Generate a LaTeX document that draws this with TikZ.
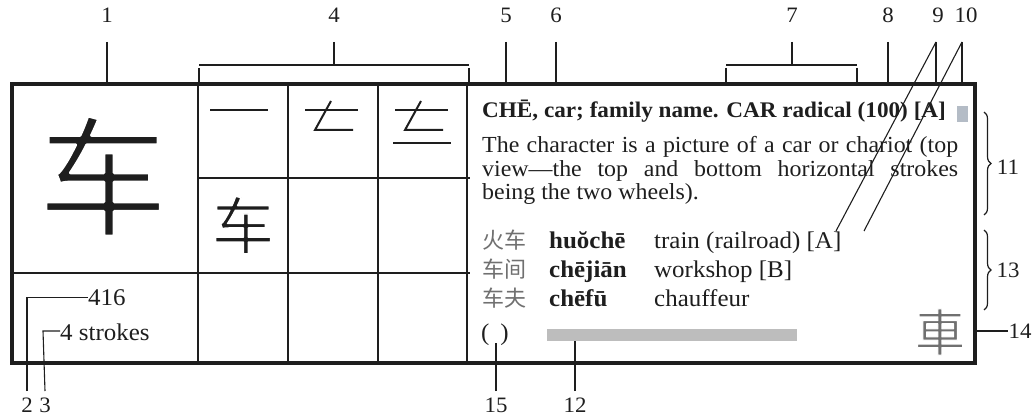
\documentclass[tikz,border=0pt]{standalone}
\usepackage{fontspec}
\setmainfont{Liberation Serif}[FakeStretch=1.04]
\newfontfamily\cjk{Noto Sans CJK SC}
\usetikzlibrary{decorations.pathreplacing}
\definecolor{ink}{HTML}{1E1E1E}
\definecolor{cjkgrey}{HTML}{707070}
\definecolor{bargrey}{HTML}{BDBDBD}
\definecolor{taggrey}{HTML}{B4BCC6}
\newcommand\thinglyph[2]{\special{pdf:literal direct 1 1 1 RG #1 w 1 j 2 Tr}#2\special{pdf:literal direct 0 Tr}}
\begin{document}
\begin{tikzpicture}[x=1pt,y=-1pt,
  lbl/.style={font=\fontsize{22}{22}\selectfont,text=ink,inner sep=0pt},
  lead/.style={line width=1.1pt,draw=ink},
  gridline/.style={line width=1.3pt,draw=ink},
  frame/.style={line width=4.2pt,draw=ink},
  body/.style={font=\fontsize{23}{23}\selectfont,text=ink,inner sep=0pt,anchor=base west},
  bodyb/.style={body,font=\fontsize{22.3}{23}\selectfont\bfseries},
  row/.style={body,font=\fontsize{24}{24}\selectfont},
  rowb/.style={body,font=\fontsize{24}{24}\selectfont\bfseries},
  cjkg/.style={body,font=\fontsize{22}{23}\selectfont\cjk,text=cjkgrey},
  penstroke/.style={line width=2pt,draw=ink},
  brc/.style={decorate,decoration={brace,amplitude=7pt},line width=1.2pt,draw=ink},
]
\useasboundingbox (0,0) rectangle (1036,417);

% frame and grid
\coordinate (tl) at (12,84);
\coordinate (br) at (975,363);
\draw[frame] (tl) rectangle (br);
\foreach \gx in {198,288,378,467}{\draw[gridline] (\gx,84) -- (\gx,363);}
\draw[gridline] (198,178) -- (470,178);
\draw[gridline] (12,273) -- (470,273);

% characters
\node[font=\fontsize{130}{130}\selectfont\cjk,text=ink,inner sep=0pt] (big) at (103,176) {\thinglyph{3}{车}};
\node[font=\fontsize{62}{62}\selectfont\cjk,text=ink,inner sep=0pt] (small) at (243,225) {\thinglyph{1.3}{车}};

% stroke order cells
\begin{scope}[shift={(198,84)}]
  \draw[penstroke] (12,26) -- (70,26);
\end{scope}
\begin{scope}[shift={(288,84)}]
  \draw[penstroke] (17,26) -- (70,26);
  \draw[penstroke] (43,17) -- (27,46) -- (65,46);
\end{scope}
\begin{scope}[shift={(378,84)}]
  \draw[penstroke] (17,26) -- (70,26);
  \draw[penstroke] (43,17) -- (27,46) -- (65,46);
  \draw[penstroke] (15,59) -- (73,59);
\end{scope}

% right panel text
\node[bodyb] (title) at (482,118) {CHĒ, car; family name. CAR radical (100) [A]};
\node[fill=taggrey,minimum width=11pt,minimum height=16pt,inner sep=0pt] (tag) at (962.5,114) {};
\node[body] (p1) at (482,153) {\makebox[476pt][s]{The character is a picture of a car or chariot (top}};
\node[body] (p2) at (482,176) {\makebox[476pt][s]{view—the top and bottom horizontal strokes}};
\node[body] (p3) at (482,199) {being the two wheels).};

\node[cjkg] (c1) at (482,248) {火车};
\node[rowb] (y1) at (549,248) {huŏchē};
\node[row] (m1) at (654,248) {train (railroad) [A]};
\node[cjkg] (c2) at (482,277) {车间};
\node[rowb] (y2) at (549,277) {chējiān};
\node[row] (m2) at (654,277) {workshop [B]};
\node[cjkg] (c3) at (482,306) {车夫};
\node[rowb] (y3) at (549,306) {chēfū};
\node[row] (m3) at (654,306) {chauffeur};
\node[row] (par) at (481,340) {(\hspace{11pt})};
\node[fill=bargrey,minimum width=250pt,minimum height=12pt,inner sep=0pt,anchor=west] (bar) at (547,335) {};
\node[font=\fontsize{50}{50}\selectfont\cjk,text=cjkgrey,inner sep=0pt] (trad) at (940,332) {\thinglyph{1}{車}};

% bottom-left text
\node[row] (num) at (88,305) {416};
\node[row] (strk) at (60,340) {4 strokes};

% top labels
\node[lbl] (n1) at (107,15) {1};
\node[lbl] (n4) at (334,15) {4};
\node[lbl] (n5) at (506,15) {5};
\node[lbl] (n6) at (556,15) {6};
\node[lbl] (n7) at (792,15) {7};
\node[lbl] (n8) at (888,15) {8};
\node[lbl] (n9) at (938,15) {9};
\node[lbl] (n10) at (966,15) {10};
\coordinate (top) at (0,84);
\coordinate (b4l) at (199,65);
\coordinate (b4r) at (469,65);
\coordinate (b7l) at (726,65);
\coordinate (b7r) at (857,65);
\coordinate (a9) at (836,231);
\coordinate (a10) at (864,231);
\coordinate (s9) at (936,42);
\coordinate (s10) at (962,42);

\draw[lead] ([yshift=-27pt]n1.center) -- (n1 |- top);
\draw[lead] ([yshift=-27pt]n4.center) -- (n4 |- b4l);
\draw[lead] ([yshift=-3pt]b4l) -- (b4l |- top);
\draw[lead] ([yshift=-3pt]b4r) -- (b4r |- top);
\draw[lead] (b4l) -- (b4r);
\draw[lead] ([yshift=-27pt]n5.center) -- (n5 |- top);
\draw[lead] ([yshift=-27pt]n6.center) -- (n6 |- top);
\draw[lead] ([yshift=-27pt]n7.center) -- (n7 |- b7l);
\draw[lead] ([yshift=-3pt]b7l) -- (b7l |- top);
\draw[lead] ([yshift=-3pt]b7r) -- (b7r |- top);
\draw[lead] (b7l) -- (b7r);
\draw[lead] ([yshift=-27pt]n8.center) -- (n8 |- top);
\draw[lead] (s9) -- (s9 |- top);
\draw[lead] (s9) -- (a9);
\draw[lead] (s10) -- (s10 |- top);
\draw[lead] (s10) -- (a10);

% right labels
\node[lbl] (n11) at (1008,167) {11};
\node[lbl] (n13) at (1008,270) {13};
\node[lbl] (n14) at (1020,331) {14};
\draw[brc] (984,112) -- (984,215);
\draw[brc] (984,230) -- (984,310);
\draw[lead] (977,331) -- (n14.west);

% bottom labels
\node[lbl] (n2) at (27,405) {2};
\node[lbl] (n3) at (45,405) {3};
\node[lbl] (n15) at (496,405) {15};
\node[lbl] (n12) at (575,405) {12};
\draw[lead] ([yshift=14pt]n2.center) -- (n2 |- num) -- (num.west |- num);
\draw[lead] ([yshift=14pt]n3.center) -- (43,331) -- (strk.west |- 0,331);
\draw[lead] ([yshift=14pt]n15.center) -- (496,343);
\draw[lead] ([yshift=14pt]n12.center) -- (bar.south -| n12);
\end{tikzpicture}
\end{document}
